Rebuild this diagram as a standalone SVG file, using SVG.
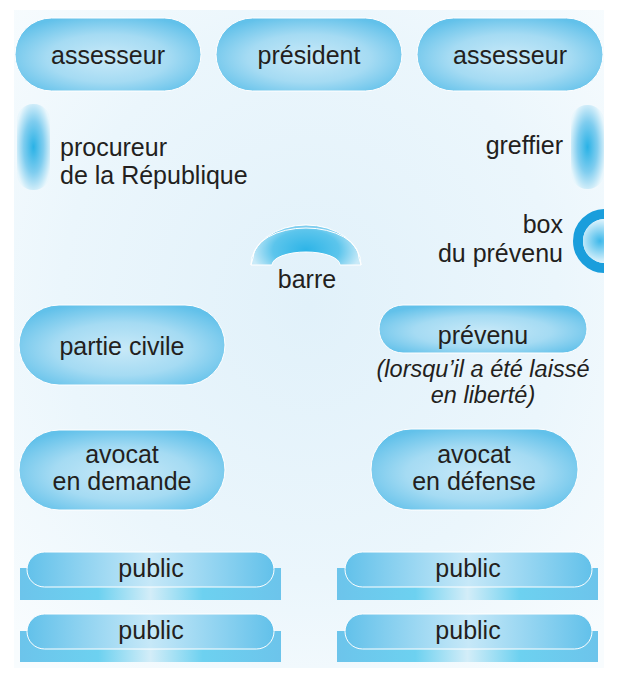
<svg xmlns="http://www.w3.org/2000/svg" width="619" height="679" viewBox="0 0 619 679">
<defs>
<radialGradient id="bg" cx="0.5" cy="0.45" r="0.7">
<stop offset="0" stop-color="#e1f1fa"/>
<stop offset="0.6" stop-color="#ebf6fc"/>
<stop offset="1" stop-color="#f8fcfe"/>
</radialGradient>
<radialGradient id="pill" cx="0.5" cy="0.55" r="0.6">
<stop offset="0" stop-color="#c8e9f8"/>
<stop offset="0.55" stop-color="#a5dbf3"/>
<stop offset="1" stop-color="#62c1ea"/>
</radialGradient>
<linearGradient id="pillH" x1="0" y1="0" x2="1" y2="0">
<stop offset="0" stop-color="#62c1ea"/>
<stop offset="0.5" stop-color="#c6e8f8"/>
<stop offset="1" stop-color="#62c1ea"/>
</linearGradient>
<linearGradient id="base" x1="0" y1="0" x2="1" y2="0">
<stop offset="0" stop-color="#6cc4eb"/>
<stop offset="0.3" stop-color="#6dd1f0"/>
<stop offset="0.5" stop-color="#d3edf8"/>
<stop offset="0.7" stop-color="#6dd1f0"/>
<stop offset="1" stop-color="#6cc4eb"/>
</linearGradient>
<radialGradient id="bar" cx="0.5" cy="0.5" r="0.75">
<stop offset="0" stop-color="#2ab2e6"/>
<stop offset="0.4" stop-color="#7fcdef"/>
<stop offset="0.75" stop-color="#e8f6fc"/>
<stop offset="1" stop-color="#f2fafe"/>
</radialGradient>
<radialGradient id="boxin" cx="600" cy="241" r="24" gradientUnits="userSpaceOnUse">
<stop offset="0" stop-color="#3db8ea"/>
<stop offset="1" stop-color="#f2fafe"/>
</radialGradient>
<radialGradient id="arch" cx="306" cy="250" r="55" gradientUnits="userSpaceOnUse" gradientTransform="translate(306 250) scale(1 0.6) translate(-306 -250)">
<stop offset="0" stop-color="#2db4e7"/>
<stop offset="0.6" stop-color="#5cc5ec"/>
<stop offset="1" stop-color="#c9eaf8"/>
</radialGradient>
<linearGradient id="archtop" x1="0" y1="0" x2="0" y2="1">
<stop offset="0" stop-color="#7ccdef"/>
<stop offset="1" stop-color="#a8def4"/>
</linearGradient>
<clipPath id="panel"><rect x="14" y="10" width="590" height="658"/></clipPath>
<style>
.t{font-family:"Liberation Sans",Arial,sans-serif;font-size:25px;fill:#231f20;text-anchor:middle}
.l{text-anchor:start}
.r{text-anchor:end}
.i{font-style:italic;font-size:23.5px}
.p{fill:url(#pill);stroke:#ffffff;stroke-width:1}
.ph{fill:url(#pillH);stroke:#ffffff;stroke-width:1}
.b{fill:url(#base)}
.bar{fill:url(#bar)}
</style>
</defs>
<rect x="14" y="10" width="590" height="658" fill="url(#bg)"/>

<g id="assesseur-gauche">
<rect class="p" x="15" y="18" width="186" height="73" rx="36.5"/>
<text class="t" x="108" y="64">assesseur</text>
</g>
<g id="president">
<rect class="p" x="216" y="18" width="186" height="73" rx="36.5"/>
<text class="t" x="309" y="64">président</text>
</g>
<g id="assesseur-droite">
<rect class="p" x="417" y="18" width="186" height="73" rx="36.5"/>
<text class="t" x="510" y="64">assesseur</text>
</g>

<g id="procureur">
<rect class="bar" x="17" y="104" width="33" height="86" rx="16"/>
<text class="t l" x="60" y="156">procureur</text>
<text class="t l" x="60" y="184">de la République</text>
</g>
<g id="greffier">
<rect class="bar" x="571" y="105" width="33" height="84" rx="16"/>
<text class="t r" x="563" y="154">greffier</text>
</g>

<g id="box-prevenu">
<g clip-path="url(#panel)">
<circle cx="605" cy="241" r="27" fill="none" stroke="#1a9edc" stroke-width="10"/>
<circle cx="605" cy="241" r="22" fill="url(#boxin)"/>
</g>
<text class="t r" x="563" y="233">box</text>
<text class="t r" x="563" y="262">du prévenu</text>
</g>

<g id="barre">
<path d="M251 265 A55 40 0 0 1 361 265 L340 265 A34 13 0 0 0 272 265 Z" fill="url(#arch)" stroke="#ffffff" stroke-width="1"/>
<path d="M251 265 A55 40 0 0 1 361 265 L359 258 A53 30 0 0 0 253 258 Z" fill="url(#archtop)" stroke="#ffffff" stroke-width="1" stroke-linejoin="round"/>
<text class="t" x="307" y="288">barre</text>
</g>

<g id="partie-civile">
<rect class="p" x="19" y="305" width="206" height="80" rx="40"/>
<text class="t" x="122" y="355">partie civile</text>
</g>
<g id="prevenu">
<rect class="p" x="379" y="305" width="208" height="48" rx="24"/>
<text class="t" x="483" y="344">prévenu</text>
<text class="t i" x="483" y="377">(lorsqu’il a été laissé</text>
<text class="t i" x="483" y="403">en liberté)</text>
</g>

<g id="avocat-demande">
<rect class="p" x="19" y="430" width="206" height="80" rx="40"/>
<text class="t" x="122" y="463">avocat</text>
<text class="t" x="122" y="490">en demande</text>
</g>
<g id="avocat-defense">
<rect class="p" x="371" y="429" width="207" height="81" rx="40"/>
<text class="t" x="474" y="463">avocat</text>
<text class="t" x="474" y="490">en défense</text>
</g>

<g id="public-1">
<rect class="b" x="20" y="568" width="261" height="32"/>
<rect class="ph" x="27" y="552" width="247" height="35" rx="17.5"/>
<text class="t" x="151" y="577">public</text>
</g>
<g id="public-2">
<rect class="b" x="337" y="568" width="261" height="32"/>
<rect class="ph" x="345" y="552" width="247" height="35" rx="17.5"/>
<text class="t" x="468" y="577">public</text>
</g>
<g id="public-3">
<rect class="b" x="20" y="631" width="261" height="31"/>
<rect class="ph" x="27" y="614" width="247" height="35" rx="17.5"/>
<text class="t" x="151" y="639">public</text>
</g>
<g id="public-4">
<rect class="b" x="337" y="631" width="261" height="31"/>
<rect class="ph" x="345" y="614" width="247" height="35" rx="17.5"/>
<text class="t" x="468" y="639">public</text>
</g>
<g id="connecteurs"/>
</svg>
